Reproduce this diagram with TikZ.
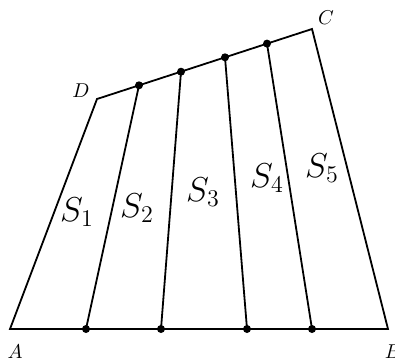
\documentclass[tikz,border=0pt]{standalone}
\usepackage{amsmath,amssymb}
\usepackage{tikz}
\usetikzlibrary{calc}
\tikzset{
  dotpt/.style={circle, fill=black, inner sep=0pt, minimum size=4pt},
  sidelbl/.style={font=\LARGE},
  cornerlbl/.style={font=\normalsize}
}

\begin{document}
\begin{tikzpicture}[x=0.5pt, y=0.5pt, line width=0.9pt]
        \useasboundingbox (0,0) rectangle (395,361);

        \coordinate (A) at (10,32);
        \coordinate (B) at (388,32);
        \coordinate (C) at (312,332);
        \coordinate (D) at (97,262);

        % trapezoid
        \draw (A) -- (B) -- (C) -- (D) -- cycle;

        % points on AB and DC
        \node[dotpt] (p1) at (86,32) {};
        \node[dotpt] (p2) at (161,32) {};
        \node[dotpt] (p3) at (247,32) {};
        \node[dotpt] (p4) at (312,32) {};
        \node[dotpt] (q1) at (139,275.7) {};
        \node[dotpt] (q2) at (181,289.3) {};
        \node[dotpt] (q3) at (225,303.7) {};
        \node[dotpt] (q4) at (267,317.4) {};

        \foreach \i in {1,...,4}
          \draw (p\i.center) -- (q\i.center);

        \node[cornerlbl] (lA) at (15,9) {$A$};
        \node[cornerlbl] (lB) at (393,9) {$B$};
        \node[cornerlbl] (lC) at (326,343) {$C$};
        \node[cornerlbl] (lD) at (81,270) {$D$};

        \node[sidelbl] (s1) at (77,149) {$S_1$};
        \node[sidelbl] (s2) at (137,153) {$S_2$};
        \node[sidelbl] (s3) at (203,169) {$S_3$};
        \node[sidelbl] (s4) at (267,183) {$S_4$};
        \node[sidelbl] (s5) at (322,193) {$S_5$};
      \end{tikzpicture}
\end{document}
